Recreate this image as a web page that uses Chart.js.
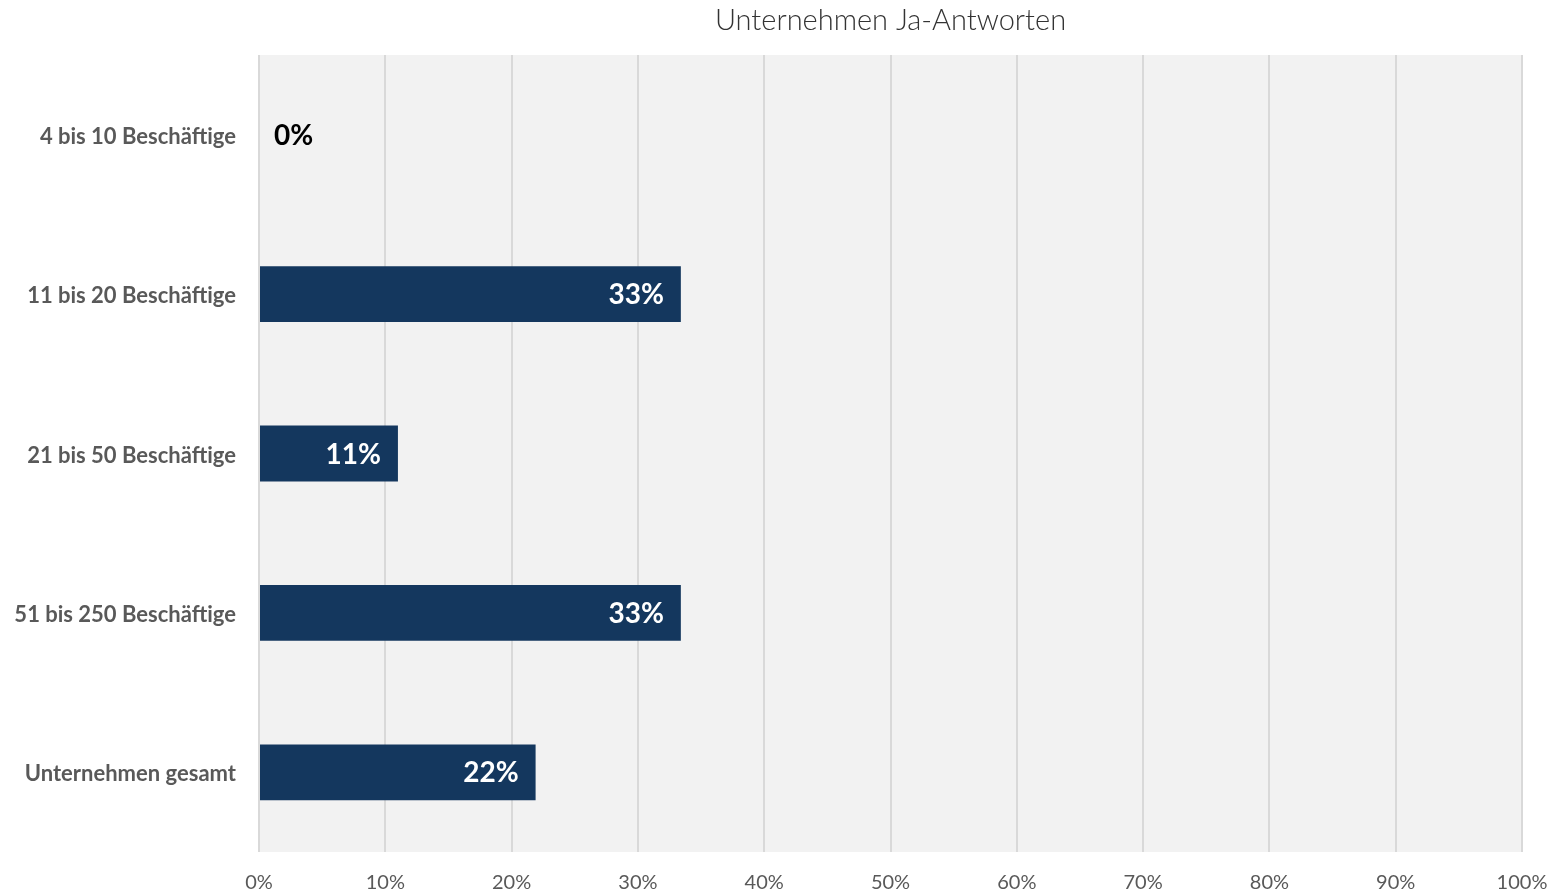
<!DOCTYPE html>
<html>
<head>
<meta charset="utf-8">
<script src="https://cdn.jsdelivr.net/npm/chart.js@4"></script>
<style>
  html, body { margin: 0; padding: 0; background: #fff; }
  #wrap { width: 1560px; height: 894px; }
</style>
</head>
<body>
<div id="wrap"><canvas id="mainChart" width="1560" height="894"></canvas></div>
<script>
const chartTitle = "Unternehmen Ja-Antworten";
const categories = [
  "4 bis 10 Beschäftige",
  "11 bis 20 Beschäftige",
  "21 bis 50 Beschäftige",
  "51 bis 250 Beschäftige",
  "Unternehmen gesamt",
];
const yesShare = [0, 33.4, 11.0, 33.4, 21.9];
const valueLabels = ["0%", "33%", "11%", "33%", "22%"];

const barColor = "#14375e";
const textGrey = "#595959";

// grey plot area + title centred over the plot
const plotBackground = {
  id: "plotBackground",
  beforeDraw(chart) {
    const { ctx, chartArea } = chart;
    ctx.save();
    ctx.fillStyle = "#f2f2f2";
    ctx.fillRect(chartArea.left, chartArea.top, chartArea.right - chartArea.left + 1, chartArea.bottom - chartArea.top);
    ctx.fillStyle = "#333333";
    ctx.font = "300 29px Lato";
    ctx.textAlign = "center";
    ctx.textBaseline = "middle";
    ctx.fillText(chartTitle, (chartArea.left + chartArea.right) / 2, 21);
    ctx.restore();
  },
};

// value labels at the bar end
const barLabels = {
  id: "barLabels",
  afterDatasetsDraw(chart) {
    const { ctx } = chart;
    const meta = chart.getDatasetMeta(0);
    ctx.save();
    ctx.font = "bold 28px Lato";
    ctx.textBaseline = "middle";
    meta.data.forEach((bar, i) => {
      if (yesShare[i] > 0) {
        ctx.fillStyle = "#ffffff";
        ctx.textAlign = "right";
        ctx.fillText(valueLabels[i], bar.x - 17, bar.y + 1);
      } else {
        ctx.fillStyle = "#000000";
        ctx.textAlign = "left";
        ctx.fillText(valueLabels[i], bar.base + 15, bar.y + 1);
      }
    });
    ctx.restore();
  },
};

new Chart(document.getElementById("mainChart").getContext("2d"), {
  type: "bar",
  data: {
    labels: categories,
    datasets: [
      {
        data: yesShare,
        backgroundColor: barColor,
        borderWidth: 0,
        barPercentage: 0.35,
        categoryPercentage: 1,
      },
    ],
  },
  plugins: [plotBackground, barLabels],
  options: {
    indexAxis: "y",
    responsive: false,
    animation: false,
    layout: { padding: { top: 55, right: 38, left: 0, bottom: 0 } },
    plugins: {
      legend: { display: false },
      title: { display: false },
      tooltip: { enabled: false },
    },
    scales: {
      x: {
        min: 0,
        max: 100,
        afterFit: (axis) => {
          axis.height = 42;
          axis.paddingLeft = 0;
          axis.paddingRight = 0;
        },
        ticks: {
          stepSize: 10,
          padding: 19,
          color: textGrey,
          font: { family: "Lato", size: 20 },
          callback: (v) => v + "%",
        },
        grid: { color: "#d9d9d9", lineWidth: 2, drawTicks: false },
        border: { display: false },
      },
      y: {
        afterFit: (axis) => { axis.width = 259; },
        ticks: {
          padding: 23,
          labelOffset: 2,
          color: textGrey,
          font: { family: "Lato", size: 22, weight: "bold" },
        },
        grid: { display: false, drawTicks: false },
        border: { display: false },
      },
    },
  },
});
</script>
</body>
</html>
